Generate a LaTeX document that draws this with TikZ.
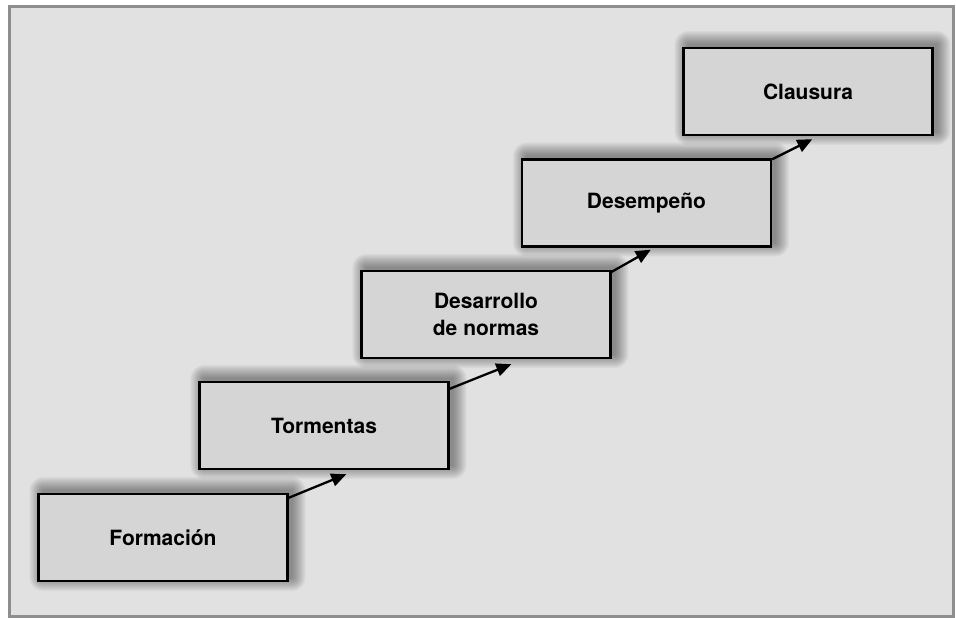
\documentclass[tikz,border=0pt]{standalone}
\usepackage{fontspec}
\setmainfont{TeX Gyre Heros}
\usetikzlibrary{arrows.meta,backgrounds}
\definecolor{bgfill}{HTML}{E1E1E1}
\definecolor{boxfill}{HTML}{D5D5D5}
\definecolor{framecol}{HTML}{8E8E8E}
\pgfdeclarelayer{bottom}
\pgfsetlayers{bottom,background,main}
\tikzset{
  stage/.style={draw=black, line width=2.4pt, fill=boxfill,
    minimum width=249pt, minimum height=87pt, inner sep=0pt,
    align=center, font=\fontsize{21}{27}\selectfont\bfseries},
  arr/.style={line width=2.3pt, -{Triangle[length=15pt,width=13pt]}}
}
\newcommand{\softshadow}[1]{%
  \foreach \k in {1,...,14}{%
    \pgfmathsetmacro{\g}{15-\k}
    \fill[black, opacity=0.03, rounded corners=\g pt]
      ([xshift=6pt-\g pt, yshift=2pt+\g pt]#1.north west) rectangle
      ([xshift=3pt+\g pt, yshift=5pt-\g pt]#1.south east);
  }}
\begin{document}
\begin{tikzpicture}[x=1pt,y=-1pt]
\useasboundingbox (0,0) rectangle (956,618);
\begin{pgfonlayer}{bottom}
\fill[white] (0,0) rectangle (956,618);
\draw[framecol, fill=bgfill, line width=3pt] (9.5,7) rectangle (953.5,616.5);
\end{pgfonlayer}
\node[stage] (f) at (163,537.5) {Formación};
\node[stage] (t) at (324,425.5) {Tormentas};
\node[stage] (d) at (486,314.5) {Desarrollo\\de normas};
\node[stage] (e) at (646.5,203) {Desempeño};
\node[stage] (c) at (808,91.5) {Clausura};
\begin{pgfonlayer}{background}
\softshadow{f}\softshadow{t}\softshadow{d}\softshadow{e}\softshadow{c}
\end{pgfonlayer}
\draw[arr] ([yshift=-5pt]f.north east) -- ([xshift=148pt,yshift=-4pt]t.south west);
\draw[arr] ([yshift=-8pt]t.north east) -- ([xshift=151pt,yshift=-5pt]d.south west);
\draw[arr] ([yshift=-2pt]d.north east) -- ([xshift=130pt,yshift=-2pt]e.south west);
\draw[arr] ([yshift=-1pt]e.north east) -- ([xshift=130pt,yshift=-3pt]c.south west);
\end{tikzpicture}
\end{document}
